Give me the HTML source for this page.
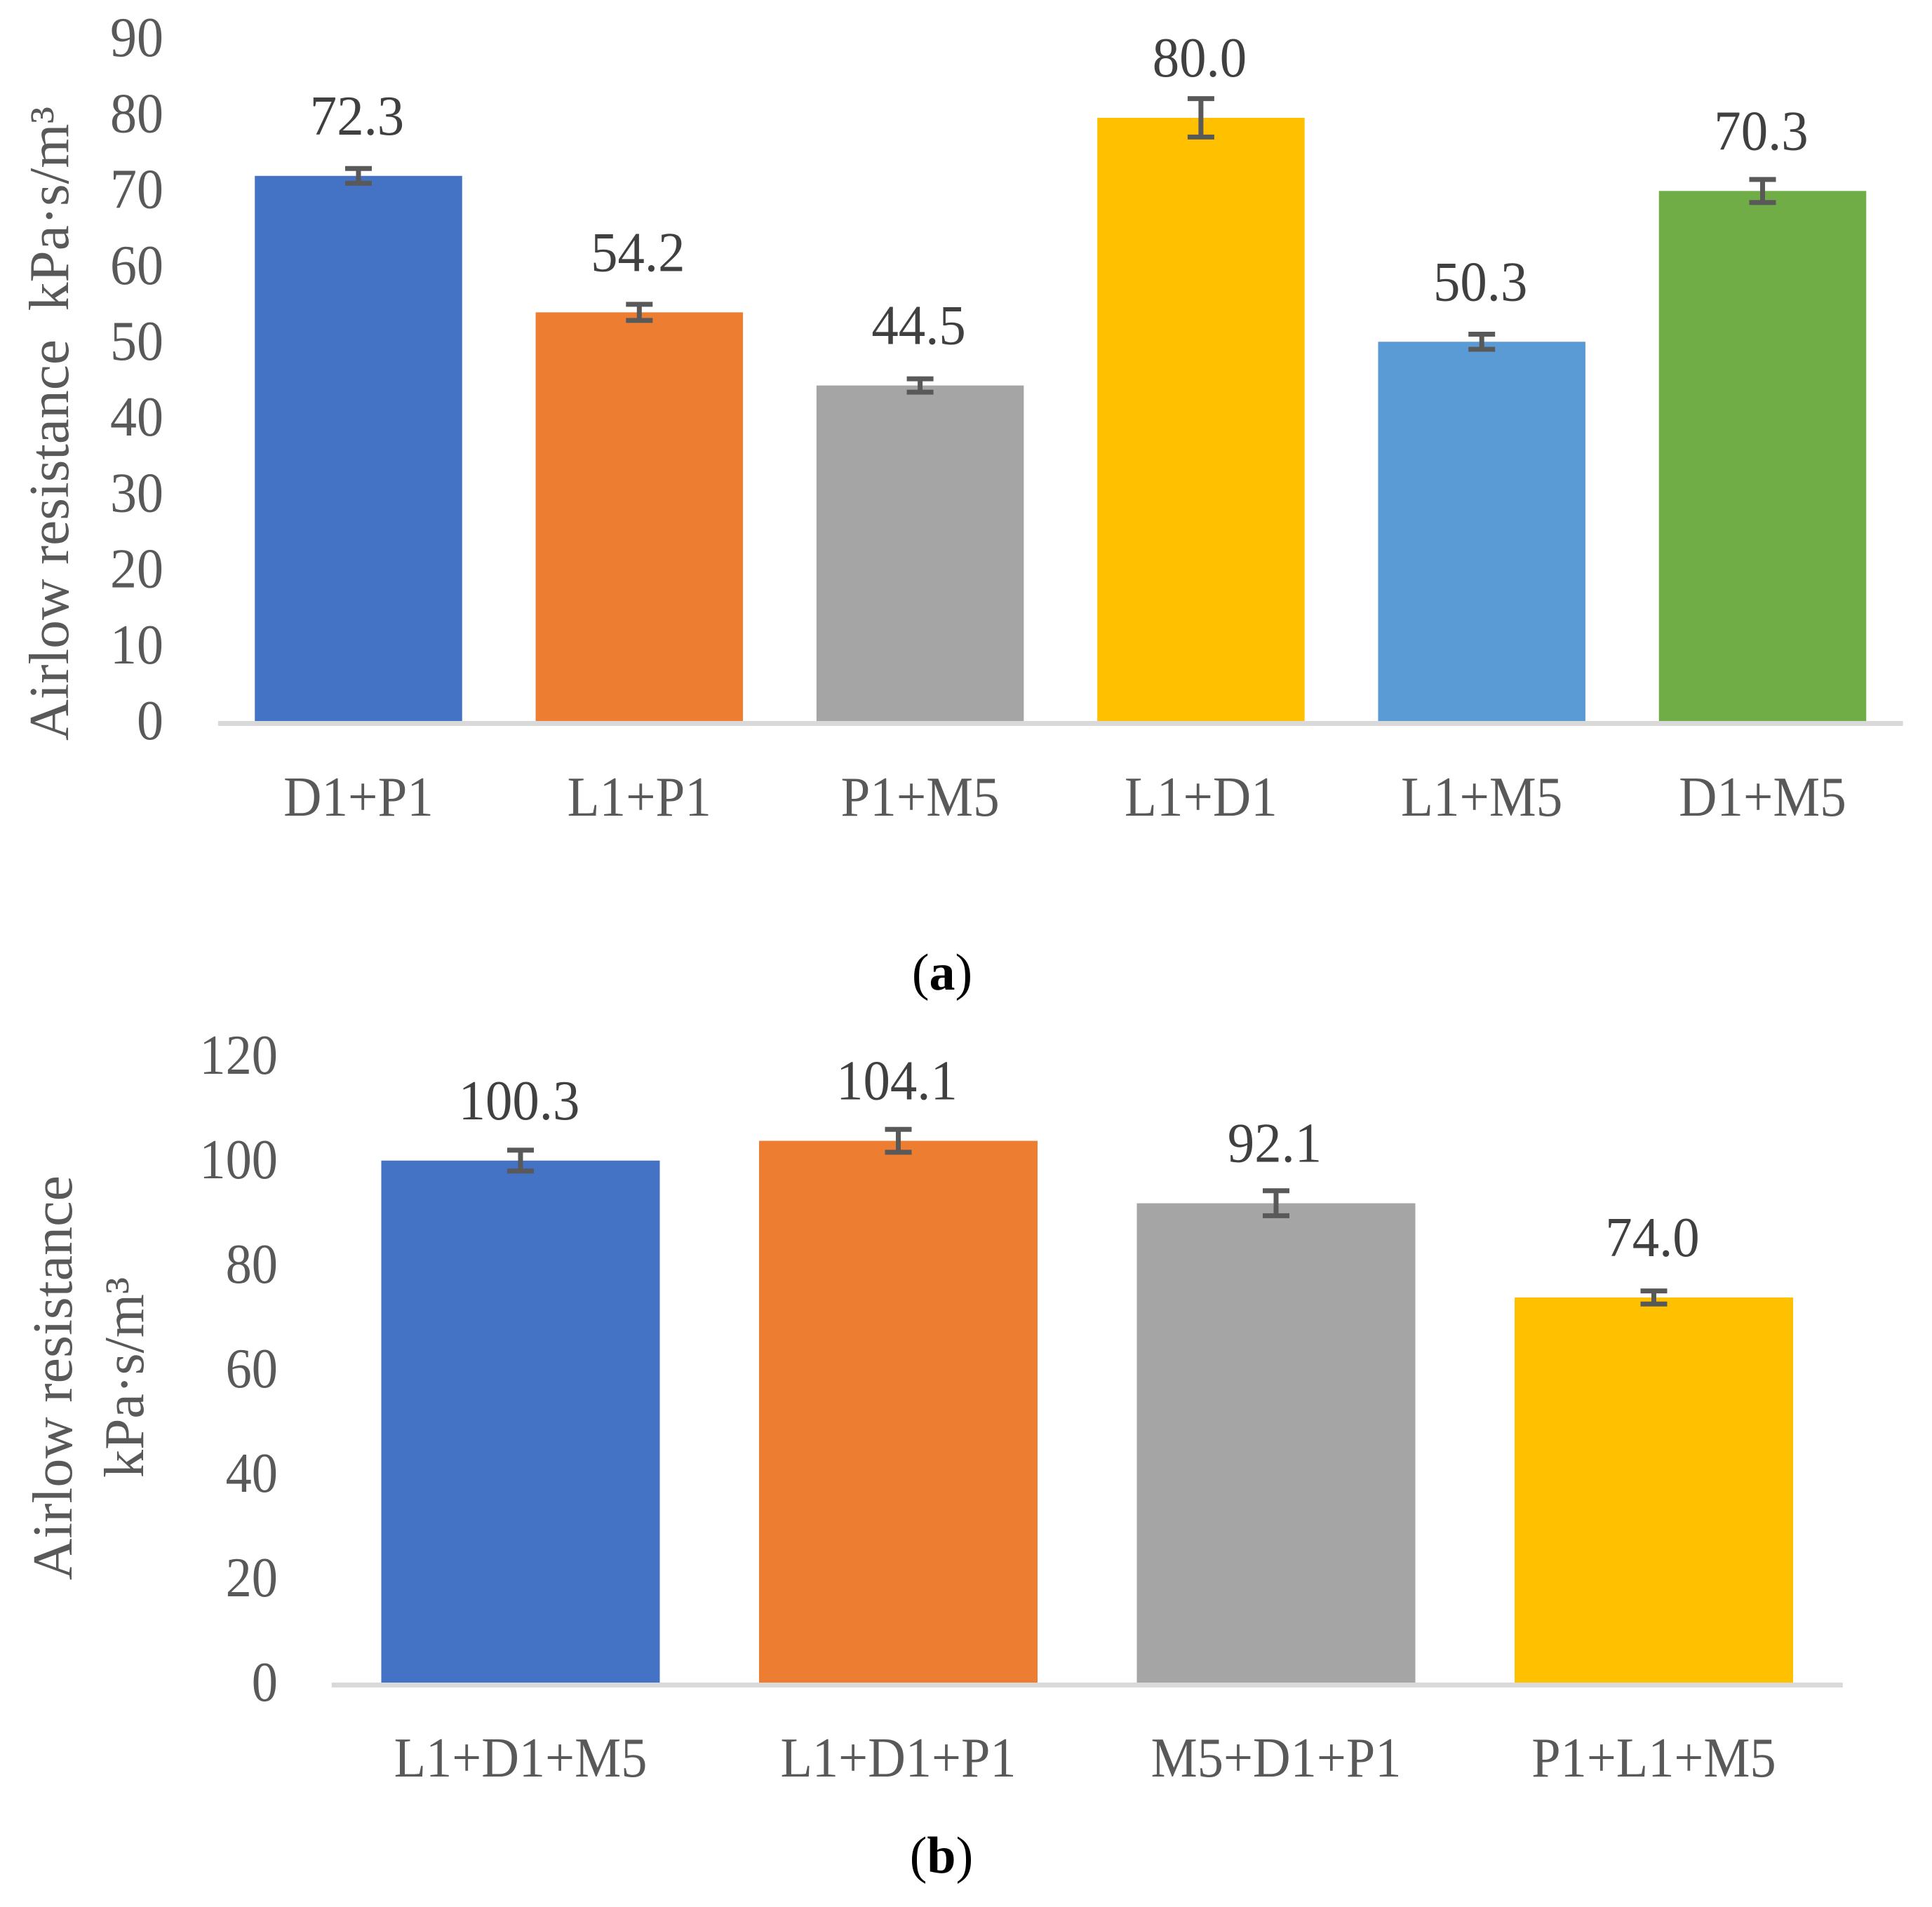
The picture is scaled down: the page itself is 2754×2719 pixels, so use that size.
<!DOCTYPE html>
<html lang="en">
<head>
<meta charset="utf-8">
<title>Airflow resistance bar charts</title>
<style>
html,body{margin:0;padding:0;background:#fff;}
svg{display:block;}
text{font-family:"Liberation Serif",serif;white-space:pre;}
</style>
</head>
<body>
<svg id="figure" xmlns="http://www.w3.org/2000/svg" width="2754" height="2719" viewBox="0 0 2754 2719">
  <rect width="2754" height="2719" fill="#ffffff"/>
  <g id="chart-a"></g>
  <g id="chart-b"></g>
  <text transform="translate(97,1056) rotate(-90)" font-size="80" fill="#595959" textLength="904" lengthAdjust="spacingAndGlyphs">Airlow resistance  kPa·s/m³</text>
  <text transform="translate(102,2253) rotate(-90)" font-size="80" fill="#595959" textLength="577" lengthAdjust="spacingAndGlyphs">Airlow resistance</text>
  <text transform="translate(204,2107) rotate(-90)" font-size="80" fill="#595959" textLength="286" lengthAdjust="spacingAndGlyphs">kPa·s/m³</text>
  <text x="1343" y="1411" text-anchor="middle" font-size="74" fill="#000000">(<tspan font-weight="bold">a</tspan>)</text>
  <text x="1342" y="2670" text-anchor="middle" font-size="74" fill="#000000">(<tspan font-weight="bold">b</tspan>)</text>
</svg>
<script>
// Chart (a) data
const categoriesA = ["D1+P1", "L1+P1", "P1+M5", "L1+D1", "L1+M5", "D1+M5"];
const valuesA = [72.3, 54.2, 44.5, 80.0, 50.3, 70.3];
const errorsA = [0.98, 1.07, 0.88, 2.55, 1.0, 1.53];
const ticksA = [0, 10, 20, 30, 40, 50, 60, 70, 80, 90];
const colorsA = ["#4472C4", "#ED7D31", "#A5A5A5", "#FFC000", "#5B9BD5", "#70AD47"];

// Chart (b) data
const categoriesB = ["L1+D1+M5", "L1+D1+P1", "M5+D1+P1", "P1+L1+M5"];
const valuesB = [100.3, 104.1, 92.1, 74.0];
const errorsB = [2.0, 2.2, 2.4, 1.25];
const ticksB = [0, 20, 40, 60, 80, 100, 120];
const colorsB = ["#4472C4", "#ED7D31", "#A5A5A5", "#FFC000"];

const SVG_NS = "http://www.w3.org/2000/svg";

function make(parent, tag, attrs, content) {
  const el = document.createElementNS(SVG_NS, tag);
  for (const k in attrs) el.setAttribute(k, attrs[k]);
  if (content !== undefined) el.textContent = content;
  parent.appendChild(el);
  return el;
}

function drawChart(root, cfg, categories, values, errors, ticks, colors) {
  const xCenter = i => cfg.firstCenter + cfg.pitch * i;
  const yScale = v => cfg.zeroY - v * cfg.pxPerUnit;
  const yTick = v => cfg.zeroY - v * cfg.tickPxPerUnit;

  // Tick labels
  ticks.forEach(t => {
    const tick = make(root, "text", {
      transform: `translate(${cfg.tickRight},${yTick(t) + 26}) scale(${cfg.tickScale},1)`,
      "text-anchor": "end", "font-size": 80, fill: "#595959"
    }, String(t));
    
    
  });

  // Bars
  values.forEach((v, i) => {
    const bar = make(root, "rect", {
      x: xCenter(i) - cfg.barWidth / 2, y: yScale(v),
      width: cfg.barWidth, height: cfg.zeroY - yScale(v), fill: colors[i]
    });
    
    
  });

  // Axis line
  const axis = make(root, "rect", {
    x: xCenter(0) - cfg.pitch / 2, y: cfg.zeroY,
    width: cfg.pitch * categories.length, height: 7, fill: "#D9D9D9"
  });
  
  

  // Error bars and labels
  values.forEach((v, i) => {
    const cx = xCenter(i);
    const hi = yScale(v + errors[i]);
    const lo = yScale(v - errors[i]);
    const err = make(root, "path", {
      d: `M${cx},${hi}V${lo}M${cx - 19},${hi}H${cx + 19}M${cx - 19},${lo}H${cx + 19}`,
      stroke: "#595959", "stroke-width": 7, fill: "none"
    });
    
    

    const label = make(root, "text", {
      transform: `translate(${cx - 2},${yScale(v) - 59}) scale(0.96,1)`,
      "text-anchor": "middle", "font-size": 80, fill: "#404040"
    }, v.toFixed(1));
    
    

    const cat = make(root, "text", {
      transform: `translate(${cx},${cfg.catY}) scale(${cfg.catScale},1)`,
      "text-anchor": "middle", "font-size": 80, fill: "#595959"
    }, categories[i]);
    
    
  });
}

drawChart(document.getElementById("chart-a"),
  {firstCenter: 511, pitch: 400.3, barWidth: 295.5, zeroY: 1028, pxPerUnit: 10.75, tickPxPerUnit: 10.82,
   tickRight: 233, tickScale: 0.95, catY: 1163, catScale: 0.94},
  categoriesA, valuesA, errorsA, ticksA, colorsA);

drawChart(document.getElementById("chart-b"),
  {firstCenter: 742, pitch: 538.5, barWidth: 397, zeroY: 2399, pxPerUnit: 7.42, tickPxPerUnit: 7.45,
   tickRight: 396, tickScale: 0.93, catY: 2533, catScale: 0.93},
  categoriesB, valuesB, errorsB, ticksB, colorsB);
</script>
</body>
</html>
